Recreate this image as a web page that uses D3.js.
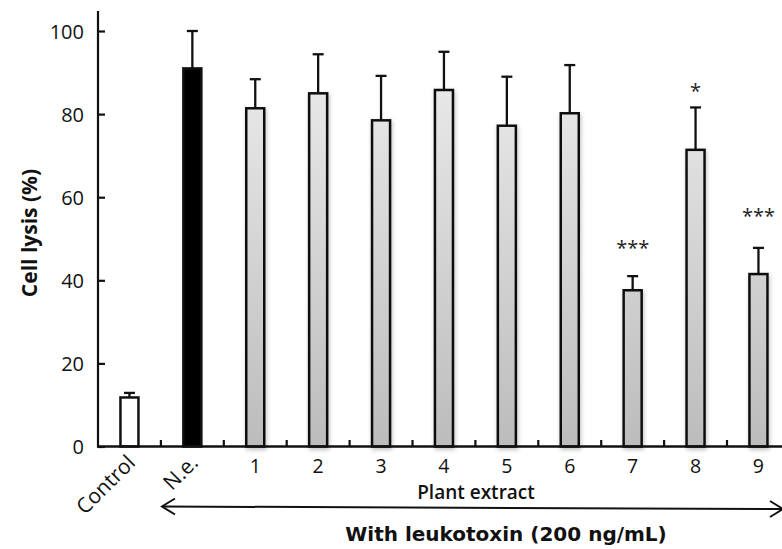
<!DOCTYPE html>
<html>
<head>
<meta charset="utf-8">
<script src="https://cdn.jsdelivr.net/npm/d3@7"></script>
<style>
  html, body { margin: 0; padding: 0; background: #ffffff; }
  svg { display: block; }
</style>
</head>
<body>
<svg id="chart" width="782" height="549"></svg>
<script>
// ---- data ----
const categories = ["Control", "N.e.", "1", "2", "3", "4", "5", "6", "7", "8", "9"];
const means      = [11.8, 91.0, 81.4, 85.0, 78.5, 85.8, 77.2, 80.2, 37.6, 71.4, 41.5];
const errors     = [1.1, 9.0, 7.0, 9.4, 10.7, 9.2, 11.8, 11.6, 3.4, 10.2, 6.3];
const signif     = ["", "", "", "", "", "", "", "", "***", "*", "***"];
const signifLevel = [null, null, null, null, null, null, null, null, 48.4, 86.2, 56.1];
const yTicks     = [0, 20, 40, 60, 80, 100];
const yLabel = "Cell lysis (%)";
const groupLabel = "Plant extract";
const bottomLabel = "With leukotoxin (200 ng/mL)";

// ---- layout ----
const svg = d3.select("#chart");
const x0 = 98, step = 62.9;
const x = d3.scaleBand().domain(categories).range([x0, x0 + step * categories.length]).padding(0);
const y = d3.scaleLinear().domain([0, 100]).range([446.5, 31]);
const barW = 18;
const font = "'Open Sans', 'Noto Sans', sans-serif";

const defs = svg.append("defs");
const grad = defs.append("linearGradient")
  .attr("id", "barGrad").attr("gradientUnits", "userSpaceOnUse")
  .attr("x1", 0).attr("x2", 0).attr("y1", y(100)).attr("y2", y(0));
grad.append("stop").attr("offset", "0%").attr("stop-color", "#efefef");
grad.append("stop").attr("offset", "100%").attr("stop-color", "#bcbcbc");
const filt = defs.append("filter").attr("id", "shadow")
  .attr("x", "-50%").attr("y", "-10%").attr("width", "200%").attr("height", "120%");
filt.append("feDropShadow").attr("dx", 1).attr("dy", 2).attr("stdDeviation", 2)
  .attr("flood-color", "#000").attr("flood-opacity", 0.25);

const cx = d => x(d) + x.bandwidth() / 2;
const rows = categories.map((c, i) => ({ c, i, m: means[i], e: errors[i], s: signif[i], sl: signifLevel[i] }));

// error bars (upper only)
const eb = svg.append("g").attr("stroke", "#111").attr("stroke-width", 2.3).attr("fill", "none");
rows.forEach(r => {
  eb.append("line").attr("x1", cx(r.c)).attr("x2", cx(r.c)).attr("y1", y(r.m)).attr("y2", y(r.m + r.e));
  eb.append("line").attr("x1", cx(r.c) - 5.5).attr("x2", cx(r.c) + 5.5).attr("y1", y(r.m + r.e)).attr("y2", y(r.m + r.e));
});

// bars
svg.append("g").selectAll("rect").data(rows).join("rect")
  .attr("x", d => cx(d.c) - barW / 2)
  .attr("width", barW)
  .attr("y", d => y(d.m))
  .attr("height", d => y(0) - y(d.m))
  .attr("fill", d => d.i === 0 ? "#ffffff" : d.i === 1 ? "#000000" : "url(#barGrad)")
  .attr("stroke", "#111")
  .attr("stroke-width", 2.5)
  .attr("filter", d => d.i >= 2 ? "url(#shadow)" : null);

// significance
svg.append("g").selectAll("text").data(rows.filter(r => r.s)).join("text")
  .attr("x", d => cx(d.c))
  .attr("y", d => y(d.sl) + 10)
  .attr("text-anchor", "middle")
  .attr("font-family", font).attr("font-size", 20).attr("fill", "#222")
  .text(d => d.s);

// y axis
const yAxis = d3.axisLeft(y).tickValues(yTicks).tickSize(-7).tickPadding(14).tickFormat(d3.format("d"));
const gy = svg.append("g").attr("transform", `translate(${x0},0)`).call(yAxis);
gy.select(".domain").remove();
gy.append("line").attr("x1", 0).attr("x2", 0).attr("y1", y(0) + 1).attr("y2", 11).attr("stroke", "#111").attr("stroke-width", 2.2);
gy.selectAll(".tick line").attr("stroke", "#111").attr("stroke-width", 2.2);
gy.selectAll(".tick text").attr("font-family", font).attr("font-size", 20).attr("fill", "#111").attr("dy", "0.36em");

// x axis line + inward ticks at category boundaries
const gx = svg.append("g");
gx.append("line").attr("x1", x0 - 1).attr("x2", x0 + step * categories.length).attr("y1", y(0)).attr("y2", y(0))
  .attr("stroke", "#111").attr("stroke-width", 2.6);
gx.selectAll("line.bt").data(categories.slice(1)).join("line").attr("class", "bt")
  .attr("x1", d => x(d)).attr("x2", d => x(d)).attr("y1", y(0)).attr("y2", y(0) - 6.5)
  .attr("stroke", "#111").attr("stroke-width", 2.2);

// x labels
rows.forEach(r => {
  if (r.i < 2) {
    const ax = cx(r.c) + 7, ay = 464;
    svg.append("text")
      .attr("x", ax).attr("y", ay)
      .attr("transform", `rotate(-45 ${ax} ${ay})`)
      .attr("text-anchor", "end")
      .attr("font-family", font).attr("font-size", 21).attr("fill", "#111")
      .text(r.c);
  } else {
    svg.append("text").attr("x", cx(r.c)).attr("y", 472.5)
      .attr("text-anchor", "middle")
      .attr("font-family", font).attr("font-size", 19.5).attr("fill", "#111")
      .text(r.c);
  }
});

svg.append("text").attr("x", 476).attr("y", 498.5).attr("text-anchor", "middle")
  .attr("font-family", font).attr("font-size", 19).attr("font-weight", 600).attr("fill", "#111")
  .text(groupLabel);

// double-headed arrow
const ag = svg.append("g").attr("stroke", "#111").attr("stroke-width", 2).attr("fill", "none");
ag.append("line").attr("x1", 162).attr("y1", 506.5).attr("x2", 783).attr("y2", 509);
ag.append("polyline").attr("points", "175,498.5 162,506.5 175,514.5");
ag.append("polyline").attr("points", "770,501 783,509 770,517");

svg.append("text").attr("x", 506).attr("y", 541).attr("text-anchor", "middle")
  .attr("font-family", "'DejaVu Sans', Verdana, sans-serif").attr("font-size", 20).attr("font-weight", "bold").attr("fill", "#111")
  .text(bottomLabel);

// y label
svg.append("text").attr("transform", "translate(37,233) rotate(-90)")
  .attr("text-anchor", "middle")
  .attr("font-family", font).attr("font-size", 21).attr("font-weight", "bold").attr("fill", "#111")
  .text(yLabel);
</script>
</body>
</html>
